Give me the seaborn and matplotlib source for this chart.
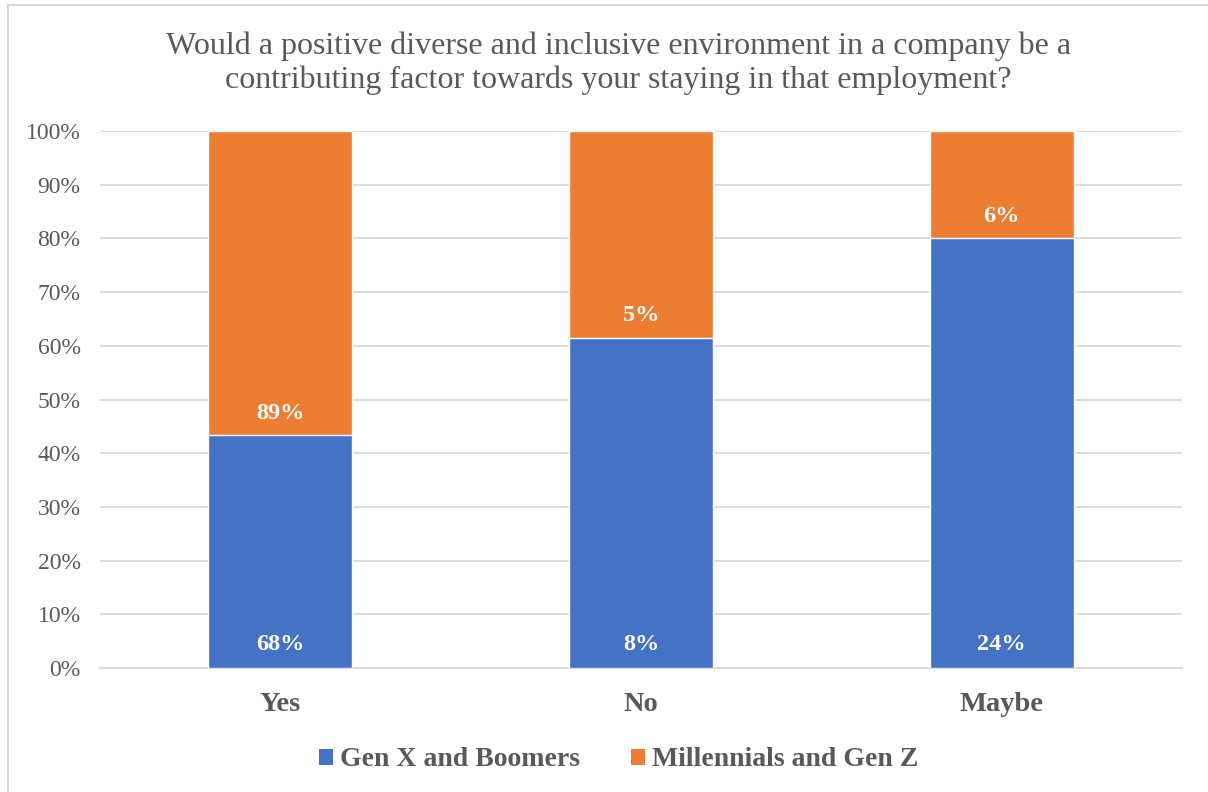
import matplotlib
matplotlib.use("Agg")
import matplotlib.pyplot as plt
import seaborn as sns
import pandas as pd
import numpy as np
from matplotlib.patches import Rectangle, Patch

categories = ["Yes", "No", "Maybe"]
series_names = ["Gen X and Boomers", "Millennials and Gen Z"]
genx_values = [68, 8, 24]
mill_values = [89, 5, 6]
title = "Would a positive diverse and inclusive environment in a company be a\ncontributing factor towards your staying in that employment?"
colors = ["#4472C4", "#ED7D31"]
text_grey = "#595959"
grid_grey = "#D9D9D9"

sns.set_theme(style="white")
plt.rcParams['font.family'] = ['Liberation Serif', 'DejaVu Serif']

genx = np.array(genx_values, dtype=float)
mill = np.array(mill_values, dtype=float)
total = genx + mill
df = pd.DataFrame({
    "category": categories,
    "genx_share": genx / total,
    "total_share": total / total,
})

fig = plt.figure(figsize=(12.08, 7.92), dpi=100)
ax = fig.add_axes([100/1208, 1-668/792, 1082/1208, 537/792])

sns.barplot(data=df, x="category", y="total_share", color=colors[1], width=0.4,
            saturation=1, ax=ax, zorder=3)
sns.barplot(data=df, x="category", y="genx_share", color=colors[0], width=0.4,
            saturation=1, ax=ax, zorder=3)

ax.set_xlim(-0.5, 2.5)
ax.set_ylim(0, 1)
ax.set_yticks(np.arange(0, 1.01, 0.1))
ax.set_yticklabels([f"{int(round(v*100))}%" for v in np.arange(0, 1.01, 0.1)],
                   fontsize=17, color=text_grey)
ax.set_xticks(range(len(categories)))
ax.set_xticklabels(categories, fontsize=20.5, fontweight="bold", color=text_grey)
ax.tick_params(axis="y", length=0, pad=14)
ax.tick_params(axis="x", length=0, pad=17)
ax.set_xlabel("")
ax.set_ylabel("")
ax.yaxis.grid(True, color=grid_grey, linewidth=1.3, zorder=0)
ax.set_axisbelow(True)
for s in ["top", "right", "left"]:
    ax.spines[s].set_visible(False)
ax.spines["bottom"].set_color(grid_grey)
ax.spines["bottom"].set_linewidth(1.3)

share_g = genx / total
for i in range(len(categories)):
    ax.annotate(f"{genx_values[i]}%", xy=(i, 0), xytext=(0, 17), textcoords="offset points",
                ha="center", va="center", fontsize=17.5, fontweight="bold", color="white", zorder=5)
    ax.annotate(f"{mill_values[i]}%", xy=(i, share_g[i]), xytext=(0, 16), textcoords="offset points",
                ha="center", va="center", fontsize=17.5, fontweight="bold", color="white", zorder=5)

fig.text(0.512, 1-63/792, title, ha="center", va="center", fontsize=23,
         color=text_grey, linespacing=1.2)

handles = [Patch(facecolor=colors[0], edgecolor="none"), Patch(facecolor=colors[1], edgecolor="none")]
leg = fig.legend(handles, series_names, loc="center", bbox_to_anchor=(0.512, 1-760/792),
                 ncol=2, frameon=False, handlelength=0.5, handleheight=0.5,
                 handletextpad=0.25, columnspacing=1.85,
                 prop={"size": 20, "weight": "bold"})
for t in leg.get_texts():
    t.set_color(text_grey)

fig.patches.append(Rectangle((8/1208, -0.05), 1.1, 1.05 - 5/792, transform=fig.transFigure,
                             fill=False, edgecolor="#D9D9D9", linewidth=1.5, zorder=0))

fig.savefig("out.png", dpi=100)
